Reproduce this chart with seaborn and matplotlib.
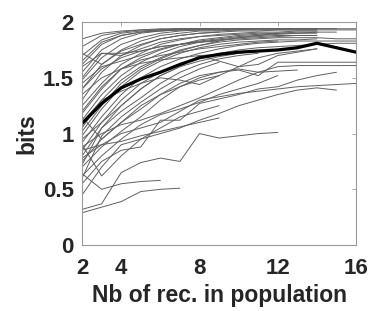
import pandas as pd
import numpy as np
import matplotlib
matplotlib.use("Agg")
import matplotlib.pyplot as plt
import seaborn as sns

# x positions start at 2 recordings; each population curve runs as long as its list
x_start = 2

# population curves (bits), one list per population
pop_curves = [
    [1.78, 1.88, 1.91, 1.93, 1.94, 1.94, 1.94, 1.94, 1.94, 1.94, 1.94, 1.94, 1.94],
    [1.70, 1.84, 1.90, 1.92, 1.93, 1.94, 1.94, 1.94, 1.94, 1.94, 1.94, 1.94, 1.94, 1.94],
    [1.62, 1.80, 1.88, 1.91, 1.93, 1.93, 1.94, 1.94, 1.94, 1.94, 1.94, 1.94, 1.94, 1.94, 1.94],
    [1.55, 1.75, 1.85, 1.90, 1.92, 1.93, 1.93, 1.93, 1.94, 1.94, 1.94],
    [1.85, 1.90, 1.92, 1.93, 1.93, 1.94, 1.94, 1.94],
    [1.48, 1.68, 1.80, 1.86, 1.90, 1.92, 1.93, 1.93, 1.93, 1.94, 1.94, 1.94, 1.94],
    [1.40, 1.62, 1.75, 1.83, 1.88, 1.90, 1.92, 1.92, 1.93, 1.93, 1.93, 1.93, 1.93],
    [1.30, 1.55, 1.70, 1.79, 1.85, 1.88, 1.90, 1.91, 1.92, 1.92, 1.93, 1.93, 1.93, 1.93, 1.93],
    [1.25, 1.45, 1.62, 1.72, 1.80, 1.84, 1.87, 1.89, 1.90, 1.91, 1.91, 1.92, 1.92],
    [1.18, 1.40, 1.58, 1.68, 1.75, 1.80, 1.84, 1.86, 1.88, 1.89, 1.90, 1.90, 1.91, 1.91],
    [1.12, 1.35, 1.52, 1.64, 1.72, 1.78, 1.82, 1.84, 1.86, 1.87, 1.88, 1.88, 1.88],
    [1.05, 1.30, 1.48, 1.60, 1.68, 1.75, 1.79, 1.82, 1.84, 1.85, 1.86, 1.86, 1.86, 1.85, 1.85],
    [0.98, 1.22, 1.42, 1.56, 1.65, 1.72, 1.77, 1.80, 1.82, 1.83, 1.84, 1.84, 1.85],
    [1.60, 1.72, 1.70, 1.76, 1.82, 1.85, 1.87, 1.88, 1.89, 1.90, 1.90],
    [1.50, 1.72, 1.72, 1.74, 1.78, 1.80, 1.82, 1.84, 1.85, 1.86, 1.87, 1.88, 1.88],
    [0.92, 1.15, 1.35, 1.50, 1.60, 1.67, 1.72, 1.76, 1.79, 1.81, 1.82, 1.83, 1.83, 1.83, 1.83],
    [0.85, 1.10, 1.30, 1.45, 1.55, 1.62, 1.68, 1.72, 1.75, 1.77, 1.78, 1.79, 1.80, 1.81, 1.81],
    [0.80, 1.05, 1.25, 1.40, 1.52, 1.60, 1.65, 1.69, 1.72, 1.74, 1.75],
    [1.35, 1.50, 1.58, 1.63, 1.66, 1.68, 1.70, 1.71, 1.73],
    [1.72, 1.62, 1.74, 1.80, 1.85, 1.88, 1.90, 1.91],
    [0.95, 1.10, 1.25, 1.40, 1.52, 1.60, 1.70, 1.65, 1.60, 1.62, 1.70, 1.73, 1.76],
    [0.75, 0.95, 1.10, 1.22, 1.35, 1.45, 1.52, 1.55, 1.57, 1.52, 1.64, 1.64, 1.64, 1.64, 1.64],
    [0.70, 0.88, 1.02, 1.15, 1.30, 1.42, 1.50, 1.55, 1.58, 1.55, 1.60, 1.61, 1.61, 1.61, 1.61],
    [0.62, 0.80, 0.95, 1.08, 1.17, 1.22, 1.28, 1.35, 1.40, 1.45, 1.52],
    [0.32, 0.37, 0.65, 0.74, 0.78, 0.75, 1.00, 0.96, 0.98, 1.00, 1.01],
    [0.29, 0.34, 0.39, 0.48, 0.50, 0.51],
    [0.64, 0.50, 0.55, 0.57, 0.58],
    [0.85, 0.90, 0.93, 0.98, 1.02, 1.06, 1.10, 1.14],
    [0.55, 0.75, 0.85, 0.88, 1.12, 1.12, 1.27, 1.31, 1.35, 1.40, 1.42, 1.48, 1.52, 1.55],
    [0.45, 0.70, 0.90, 0.95, 1.00, 1.05, 1.12, 1.18, 1.25, 1.30, 1.35, 1.39, 1.41, 1.39],
    [0.78, 0.90, 1.00, 1.05, 1.10, 1.20, 1.30, 1.33, 1.36, 1.38, 1.40, 1.42, 1.43, 1.44, 1.45],
    [0.88, 1.00, 1.08, 1.12, 1.18, 1.25, 1.32, 1.40, 1.48, 1.55, 1.56, 1.57],
    [1.10, 1.30, 1.38, 1.45, 1.50, 1.48, 1.44, 1.52, 1.60, 1.68, 1.72, 1.74, 1.76],
    [0.90, 0.62, 0.80, 0.95, 1.05, 1.15, 1.20, 1.25],
    [1.15, 0.95, 1.10, 1.25, 1.35, 1.42, 1.48, 1.52],
    [1.40, 1.58, 1.68, 1.74, 1.78, 1.80, 1.82, 1.83],
    [1.20, 1.42, 1.58, 1.66, 1.70, 1.73, 1.76, 1.78, 1.80, 1.82, 1.83],
    [1.02, 1.25, 1.45, 1.58, 1.67, 1.74, 1.79, 1.83, 1.86, 1.88, 1.90, 1.91, 1.91],
    [1.65, 1.82, 1.88, 1.91, 1.92, 1.93, 1.93],
    [1.45, 1.60, 1.65, 1.70, 1.76, 1.80, 1.83, 1.85, 1.87, 1.88, 1.89, 1.90, 1.90],
    [0.72, 1.05, 1.20, 1.32, 1.45, 1.55, 1.62, 1.67, 1.70, 1.72],
    [0.60, 0.98, 1.15, 1.28, 1.40, 1.50, 1.58, 1.64],
]

# average curve (thick black)
mean_curve = [1.09, 1.27, 1.41, 1.49, 1.55, 1.62, 1.68, 1.71, 1.73, 1.74, 1.75, 1.77, 1.81, 1.77, 1.73]

x_ticks = [2, 4, 8, 12, 16]
y_ticks = [0, 0.5, 1, 1.5, 2]

# long table for seaborn
rows = []
for i, curve in enumerate(pop_curves):
    for k, v in enumerate(curve):
        rows.append({"pop": i, "x": x_start + k, "bits": v})
df = pd.DataFrame(rows)

df_mean = pd.DataFrame({
    "x": x_start + np.arange(len(mean_curve)),
    "bits": mean_curve,
})

sns.set_theme(style="white")
plt.rcParams["font.family"] = ["Liberation Sans", "DejaVu Sans"]

fig = plt.figure(figsize=(3.8, 3.11), dpi=100)
ax = fig.add_axes([0.216, 0.212, 0.721, 0.717])

sns.lineplot(data=df, x="x", y="bits", units="pop", estimator=None,
             color="#606060", lw=0.7, ax=ax, legend=False)
sns.lineplot(data=df_mean, x="x", y="bits", color="black", lw=2.3, ax=ax)

ax.set_xlim(2, 16)
ax.set_ylim(0, 2)
ax.set_xticks(x_ticks)
ax.set_yticks(y_ticks)
ax.set_xticklabels([str(t) for t in x_ticks])
ax.set_yticklabels(["0", "0.5", "1", "1.5", "2"])

ax.tick_params(direction="in", length=3, width=0.6, color="#999999",
               top=True, right=True, labelsize=16, labelcolor="#262626")
ax.tick_params(axis="x", pad=9)
ax.tick_params(axis="y", pad=6)
for lab in ax.get_xticklabels() + ax.get_yticklabels():
    lab.set_fontweight("bold")

for sp in ax.spines.values():
    sp.set_color("#999999")
    sp.set_linewidth(0.8)

ax.set_xlabel("Nb of rec. in population", fontsize=16.5, fontweight="bold",
              color="#262626", labelpad=4)
ax.set_ylabel("bits", fontsize=16.5, fontweight="bold", color="#262626", labelpad=3)

fig.savefig("out.png", dpi=100)
